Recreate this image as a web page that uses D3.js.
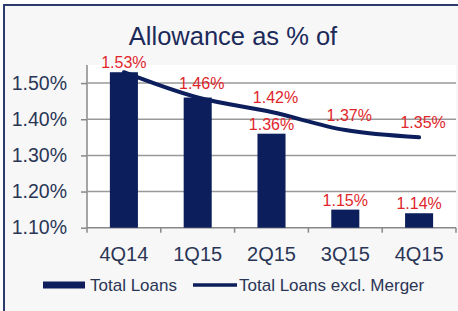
<!DOCTYPE html>
<html>
<head>
<meta charset="utf-8">
<script src="https://cdn.jsdelivr.net/npm/d3@7"></script>
<style>
  body { margin: 0; background: #ffffff; }
  text { font-family: "Liberation Sans", Arial, sans-serif; }
</style>
</head>
<body>
<div id="chart"></div>
<script>
// data
const quarters = ["4Q14", "1Q15", "2Q15", "3Q15", "4Q15"];
const totalLoans = [1.53, 1.46, 1.36, 1.15, 1.14];
const exclMerger = [1.53, 1.46, 1.42, 1.37, 1.35];
const yTicks = [1.10, 1.20, 1.30, 1.40, 1.50];
const seriesNames = ["Total Loans", "Total Loans excl. Merger"];
const chartTitle = "Allowance as % of";

const canvWidth = 458, canvHeight = 311;
const navy = "#0c1f5c", labelRed = "#e0262b", textCol = "#2a3556";

const svg = d3.select("#chart").append("svg")
    .attr("width", canvWidth)
    .attr("height", canvHeight);

// panel background + the navy frame on top and left
svg.append("rect").attr("x", 3).attr("y", 4).attr("width", canvWidth - 3).attr("height", canvHeight - 4)
    .attr("fill", "#f7f7f7");
svg.append("rect").attr("x", 3).attr("y", 4).attr("width", canvWidth - 3).attr("height", 2).attr("fill", "#2c3a6e");
svg.append("rect").attr("x", 3).attr("y", 4).attr("width", 2).attr("height", canvHeight - 4).attr("fill", "#2c3a6e");

// plot area
const plot = {left: 87, right: 456, top: 65, bottom: 227.7};

const x = d3.scaleBand()
    .domain(quarters)
    .range([plot.left, plot.right])
    .paddingInner(0.62)
    .paddingOuter(0.31);

const y = d3.scaleLinear()
    .domain([1.10, 1.55])
    .range([plot.bottom, plot.top]);

const cx = q => x(q) + x.bandwidth() / 2;

svg.append("rect")
    .attr("x", plot.left).attr("y", plot.top)
    .attr("width", plot.right - plot.left).attr("height", plot.bottom - plot.top)
    .attr("fill", "#ffffff");

// title
svg.append("text")
    .attr("x", 233).attr("y", 45)
    .attr("text-anchor", "middle")
    .attr("font-size", 25.5)
    .attr("fill", "#1c2a5a")
    .text(chartTitle);

// y axis with gridlines
const yAxis = svg.append("g")
    .attr("transform", `translate(${plot.left},0)`)
    .call(d3.axisLeft(y).tickValues(yTicks).tickSize(6).tickPadding(14)
        .tickFormat(d => d.toFixed(2) + "%"));
yAxis.select(".domain").attr("stroke", "#888").attr("stroke-width", 1.5).attr("d", `M0,${plot.top}V${plot.bottom}`);
yAxis.selectAll(".tick line").attr("stroke", "#888").attr("stroke-width", 1.5);
yAxis.selectAll(".tick text")
    .attr("font-size", 19.5).attr("fill", textCol)
    .attr("font-family", "Liberation Sans, Arial, sans-serif");

svg.append("g").selectAll("line")
    .data(yTicks.slice(1))
    .join("line")
      .attr("x1", plot.left).attr("x2", plot.right)
      .attr("y1", d => y(d)).attr("y2", d => y(d))
      .attr("stroke", "#999").attr("stroke-width", 1.5);

// x axis: band boundary ticks
const step = x.step();
const xAxis = svg.append("g");
xAxis.append("line")
    .attr("x1", plot.left).attr("x2", plot.right)
    .attr("y1", plot.bottom).attr("y2", plot.bottom)
    .attr("stroke", "#888").attr("stroke-width", 1.5);
xAxis.selectAll(".bt")
    .data(d3.range(quarters.length + 1))
    .join("line")
      .attr("class", "bt")
      .attr("x1", i => plot.left + i * step).attr("x2", i => plot.left + i * step)
      .attr("y1", plot.bottom).attr("y2", plot.bottom + 5)
      .attr("stroke", "#888").attr("stroke-width", 1.5);
xAxis.selectAll(".xl")
    .data(quarters)
    .join("text")
      .attr("class", "xl")
      .attr("x", d => cx(d))
      .attr("y", 261)
      .attr("text-anchor", "middle")
      .attr("font-size", 20)
      .attr("fill", textCol)
      .text(d => d);

// bars
svg.append("g").selectAll("rect")
    .data(quarters)
    .join("rect")
      .attr("x", d => x(d))
      .attr("width", x.bandwidth())
      .attr("y", (d, i) => y(totalLoans[i]))
      .attr("height", (d, i) => plot.bottom - y(totalLoans[i]))
      .attr("fill", navy);

// smoothed line
const line = d3.line()
    .x((d, i) => cx(quarters[i]))
    .y(d => y(d))
    .curve(d3.curveCatmullRom.alpha(0.5));

svg.append("path")
    .datum(exclMerger)
    .attr("d", line)
    .attr("fill", "none")
    .attr("stroke", navy)
    .attr("stroke-width", 4)
    .attr("stroke-linecap", "round");

// data labels (shared values at 4Q14 and 1Q15 are shown once)
const barLabels = quarters.map((q, i) => ({q, v: totalLoans[i]})).filter((d, i) => i !== 1);
const lineLabels = quarters.map((q, i) => ({q, v: exclMerger[i]})).filter((d, i) => i > 0);

svg.append("g").selectAll("text")
    .data(barLabels)
    .join("text")
      .attr("x", d => cx(d.q))
      .attr("y", d => y(d.v) - 4)
      .attr("text-anchor", "middle")
      .attr("font-size", 16)
      .attr("fill", labelRed)
      .text(d => d.v.toFixed(2) + "%");

svg.append("g").selectAll("text")
    .data(lineLabels)
    .join("text")
      .attr("x", d => cx(d.q) + 4)
      .attr("y", d => y(d.v) - 9)
      .attr("text-anchor", "middle")
      .attr("font-size", 16)
      .attr("fill", labelRed)
      .text(d => d.v.toFixed(2) + "%");

// legend
const legend = svg.append("g");
legend.append("rect").attr("x", 43).attr("y", 281.5).attr("width", 42).attr("height", 7).attr("fill", navy);
legend.append("text").attr("x", 90).attr("y", 291).attr("font-size", 17).attr("fill", textCol).text(seriesNames[0]);
legend.append("line").attr("x1", 193).attr("x2", 237).attr("y1", 285).attr("y2", 285)
    .attr("stroke", navy).attr("stroke-width", 3.5);
legend.append("text").attr("x", 239).attr("y", 291).attr("font-size", 17).attr("fill", textCol).text(seriesNames[1]);
</script>
</body>
</html>
